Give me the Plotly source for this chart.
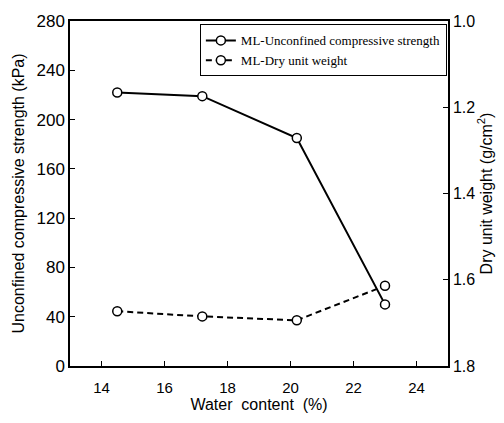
import plotly.graph_objects as go

water_content = [14.5, 17.2, 20.2, 23.0]
ucs_kpa = [222, 219, 185, 50]
dry_unit_weight = [1.673, 1.685, 1.694, 1.614]

x_ticks = [14, 16, 18, 20, 22, 24]
y1_ticks = [0, 40, 80, 120, 160, 200, 240, 280]
y2_ticks = [1.0, 1.2, 1.4, 1.6, 1.8]

marker_style = dict(symbol="circle", size=9, color="white",
                    line=dict(color="black", width=1.5))

fig = go.Figure()
fig.add_trace(go.Scatter(
    x=water_content, y=ucs_kpa, mode="lines+markers",
    name="ML-Unconfined compressive strength",
    line=dict(color="black", width=2), marker=marker_style, yaxis="y"))
fig.add_trace(go.Scatter(
    x=water_content, y=dry_unit_weight, mode="lines+markers",
    name="ML-Dry unit weight",
    line=dict(color="black", width=2, dash="6px,4px"), marker=marker_style, yaxis="y2"))

axis_font = dict(family="Liberation Sans, Arial, sans-serif", color="black")

fig.update_layout(
    width=504, height=423,
    margin=dict(l=70, r=49, t=18, b=57),
    paper_bgcolor="white", plot_bgcolor="white",
    showlegend=True,
    legend=dict(
        x=0.997, y=0.99, xanchor="right", yanchor="top",
        bgcolor="white", bordercolor="black", borderwidth=1,
        font=dict(family="Liberation Serif, Times New Roman, serif", size=13, color="black"),
        tracegroupgap=0, itemwidth=30,
    ),
    xaxis=dict(
        range=[13, 25], tickvals=x_ticks, ticktext=[str(v) for v in x_ticks],
        ticks="inside", ticklen=5, tickcolor="black", ticklabelstandoff=7,
        showline=True, linecolor="black", linewidth=1.5, mirror=True,
        showgrid=False, zeroline=False,
        tickfont=dict(size=15, **axis_font),
        title=dict(text="Water  content  (%)", font=dict(size=16, **axis_font), standoff=4),
    ),
    yaxis=dict(
        range=[0, 280], tickvals=y1_ticks, ticktext=[str(v) for v in y1_ticks],
        ticks="inside", ticklen=5, tickcolor="black",
        showline=True, linecolor="black", linewidth=1.5,
        showgrid=False, zeroline=False,
        tickfont=dict(size=17, **axis_font),
        title=dict(text="Unconfined compressive strength (kPa)", font=dict(size=16, **axis_font), standoff=8),
    ),
    yaxis2=dict(
        overlaying="y", side="right",
        range=[1.8, 1.0], tickvals=y2_ticks, ticktext=[f"{v:.1f}" for v in y2_ticks],
        ticks="inside", ticklen=5, tickcolor="black",
        showline=True, linecolor="black", linewidth=1.5,
        showgrid=False, zeroline=False,
        tickfont=dict(size=16, **axis_font),
        title=dict(text="Dry unit weight (g/cm<sup>2</sup>)", font=dict(size=16, **axis_font), standoff=6),
    ),
)

fig.write_html("out.html")
